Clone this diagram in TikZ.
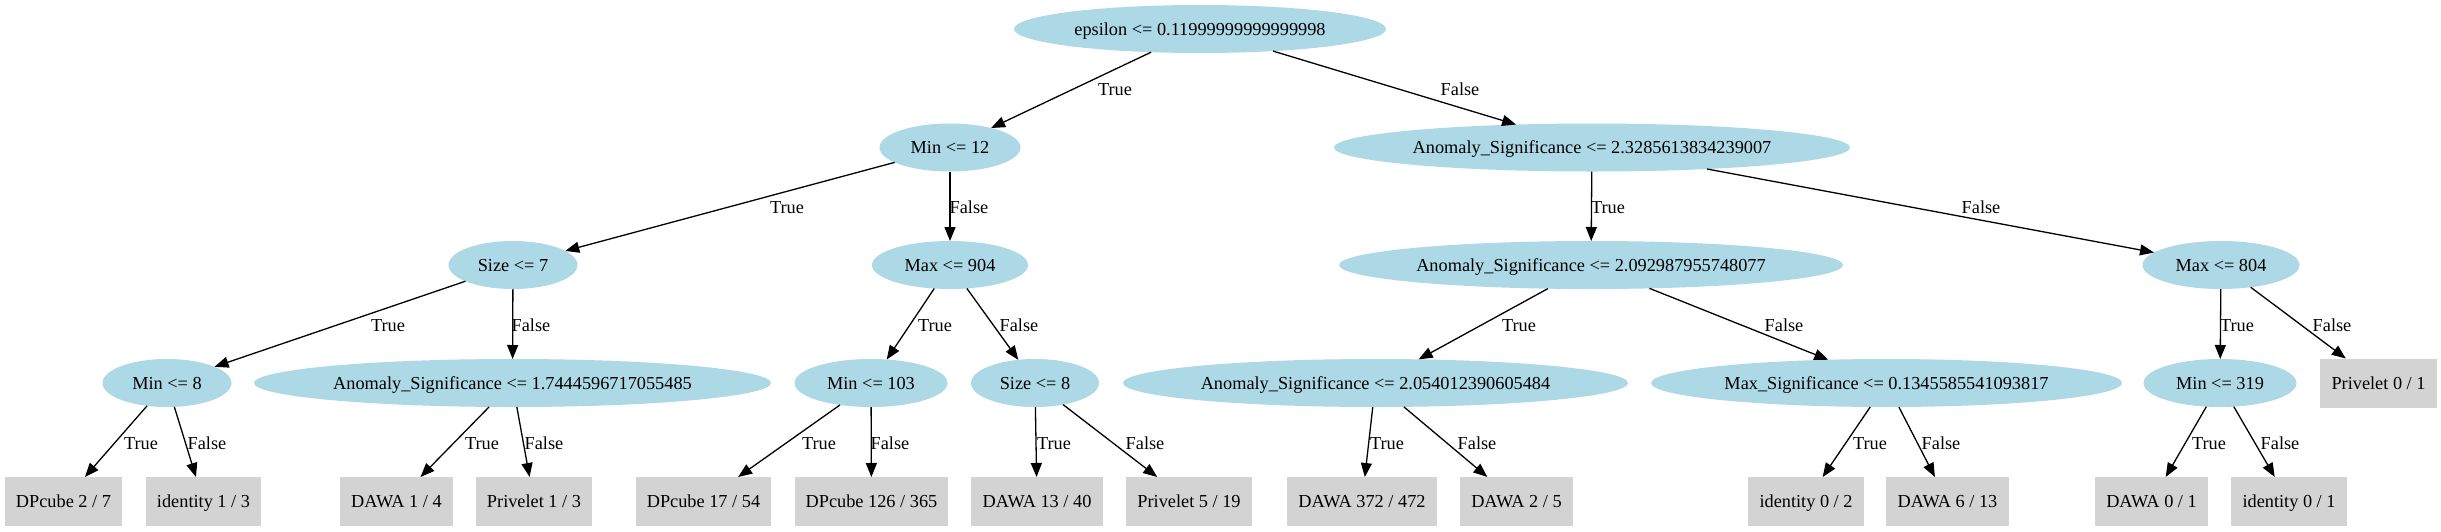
\documentclass[tikz,border=0pt]{standalone}
\usepackage{fontspec}
\setmainfont{Liberation Serif}
\usetikzlibrary{shapes.geometric,arrows.meta}
\definecolor{nodeblue}{HTML}{ADD8E6}
\definecolor{leafgray}{HTML}{D3D3D3}
\newcommand\gvfont{\fontsize{18.3pt}{22pt}\selectfont}
\tikzset{
  dec/.style={ellipse, fill=nodeblue, inner sep=0pt, outer sep=0pt, minimum height=48pt, font=\gvfont, text height=12pt, text depth=0pt},
  leaf/.style={rectangle, fill=leafgray, inner sep=0pt, outer sep=0pt, minimum height=49pt, font=\gvfont, text height=12pt, text depth=0pt},
  arr/.style={-{Triangle[length=14pt,width=11pt]}, line width=1.3pt, black},
  lbl/.style={font=\gvfont, inner sep=0pt, text height=12pt, text depth=0pt}
}
\begin{document}
\begin{tikzpicture}[x=1pt,y=-1pt]
\fill[white] (0,0) rectangle (2441,531);
\useasboundingbox (0,0) rectangle (2441,531);
% level 0
\node[dec, minimum width=372pt] (eps) at (1200,29) {epsilon <= 0.11999999999999998};
% level 1
\node[dec, minimum width=141pt] (min12) at (950,147.5) {Min <= 12};
\node[dec, minimum width=516pt] (an233) at (1592,147.5) {Anomaly\_Significance <= 2.3285613834239007};
% level 2
\node[dec, minimum width=129pt] (size7) at (513,265) {Size <= 7};
\node[dec, minimum width=156pt] (max904) at (950,265) {Max <= 904};
\node[dec, minimum width=504pt] (an209) at (1591,265) {Anomaly\_Significance <= 2.092987955748077};
\node[dec, minimum width=157pt] (max804) at (2221,265) {Max <= 804};
% level 3
\node[dec, minimum width=129pt] (min8) at (167,383) {Min <= 8};
\node[dec, minimum width=517pt] (an174) at (512.5,383) {Anomaly\_Significance <= 1.7444596717055485};
\node[dec, minimum width=153pt] (min103) at (871,383) {Min <= 103};
\node[dec, minimum width=128pt] (size8) at (1035,383) {Size <= 8};
\node[dec, minimum width=505pt] (an205) at (1375.5,383) {Anomaly\_Significance <= 2.054012390605484};
\node[dec, minimum width=471pt] (maxsig) at (1886.5,383) {Max\_Significance <= 0.1345585541093817};
\node[dec, minimum width=153pt] (min319) at (2220,383) {Min <= 319};
\node[leaf, minimum width=117pt] (priv01) at (2378.5,383) {Privelet 0 / 1};
% leaves
\node[leaf, minimum width=117pt] (dpc27) at (63.5,501.5) {DPcube 2 / 7};
\node[leaf, minimum width=115pt] (id13) at (203.5,501.5) {identity 1 / 3};
\node[leaf, minimum width=113pt] (dawa14) at (396.5,501.5) {DAWA 1 / 4};
\node[leaf, minimum width=116pt] (priv13) at (534,501.5) {Privelet 1 / 3};
\node[leaf, minimum width=135pt] (dpc1754) at (703.5,501.5) {DPcube 17 / 54};
\node[leaf, minimum width=153pt] (dpc126) at (871.5,501.5) {DPcube 126 / 365};
\node[leaf, minimum width=132pt] (dawa1340) at (1037,501.5) {DAWA 13 / 40};
\node[leaf, minimum width=126pt] (priv519) at (1189,501.5) {Privelet 5 / 19};
\node[leaf, minimum width=150pt] (dawa372) at (1362,501.5) {DAWA 372 / 472};
\node[leaf, minimum width=113pt] (dawa25) at (1516.5,501.5) {DAWA 2 / 5};
\node[leaf, minimum width=116pt] (id02) at (1806,501.5) {identity 0 / 2};
\node[leaf, minimum width=123pt] (dawa613) at (1947.5,501.5) {DAWA 6 / 13};
\node[leaf, minimum width=113pt] (dawa01) at (2151.5,501.5) {DAWA 0 / 1};
\node[leaf, minimum width=116pt] (id01) at (2289,501.5) {identity 0 / 1};
% edges
\draw[arr] (eps) -- (min12);   \node[lbl] (t1) at (1115,89) {True};
\draw[arr] (eps) -- (an233);   \node[lbl] (f1) at (1460,89) {False};
\draw[arr] (min12) -- (size7); \node[lbl] (t2) at (787,207) {True};
\draw[arr] (min12) -- (max904);\node[lbl] (f2) at (969,207) {False};
\draw[arr] (an233) -- (an209); \node[lbl] (t3) at (1608,207) {True};
\draw[arr] (an233) -- (max804);\node[lbl] (f3) at (1981,207) {False};
\draw[arr] (size7) -- (min8);  \node[lbl] (t4) at (388,325) {True};
\draw[arr] (size7) -- (an174); \node[lbl] (f4) at (531,325) {False};
\draw[arr] (max904) -- (min103);\node[lbl] (t5) at (935,325) {True};
\draw[arr] (max904) -- (size8); \node[lbl] (f5) at (1019,325) {False};
\draw[arr] (an209) -- (an205); \node[lbl] (t6) at (1519,325) {True};
\draw[arr] (an209) -- (maxsig);\node[lbl] (f6) at (1784,325) {False};
\draw[arr] (max804) -- (min319);\node[lbl] (t7) at (2237,325) {True};
\draw[arr] (max804) -- (priv01);\node[lbl] (f7) at (2332,325) {False};
\draw[arr] (min8) -- (dpc27);  \node[lbl] (t8) at (141,443) {True};
\draw[arr] (min8) -- (id13);   \node[lbl] (f8) at (207,443) {False};
\draw[arr] (an174) -- (dawa14);\node[lbl] (t9) at (482,443) {True};
\draw[arr] (an174) -- (priv13);\node[lbl] (f9) at (544,443) {False};
\draw[arr] (min103) -- (dpc1754);\node[lbl] (t10) at (819,443) {True};
\draw[arr] (min103) -- (dpc126); \node[lbl] (f10) at (890,443) {False};
\draw[arr] (size8) -- (dawa1340);\node[lbl] (t11) at (1054,443) {True};
\draw[arr] (size8) -- (priv519); \node[lbl] (f11) at (1145,443) {False};
\draw[arr] (an205) -- (dawa372); \node[lbl] (t12) at (1387,443) {True};
\draw[arr] (an205) -- (dawa25);  \node[lbl] (f12) at (1477,443) {False};
\draw[arr] (maxsig) -- (id02);   \node[lbl] (t13) at (1870,443) {True};
\draw[arr] (maxsig) -- (dawa613);\node[lbl] (f13) at (1941,443) {False};
\draw[arr] (min319) -- (dawa01); \node[lbl] (t14) at (2209,443) {True};
\draw[arr] (min319) -- (id01);   \node[lbl] (f14) at (2280,443) {False};
\end{tikzpicture}
\end{document}
